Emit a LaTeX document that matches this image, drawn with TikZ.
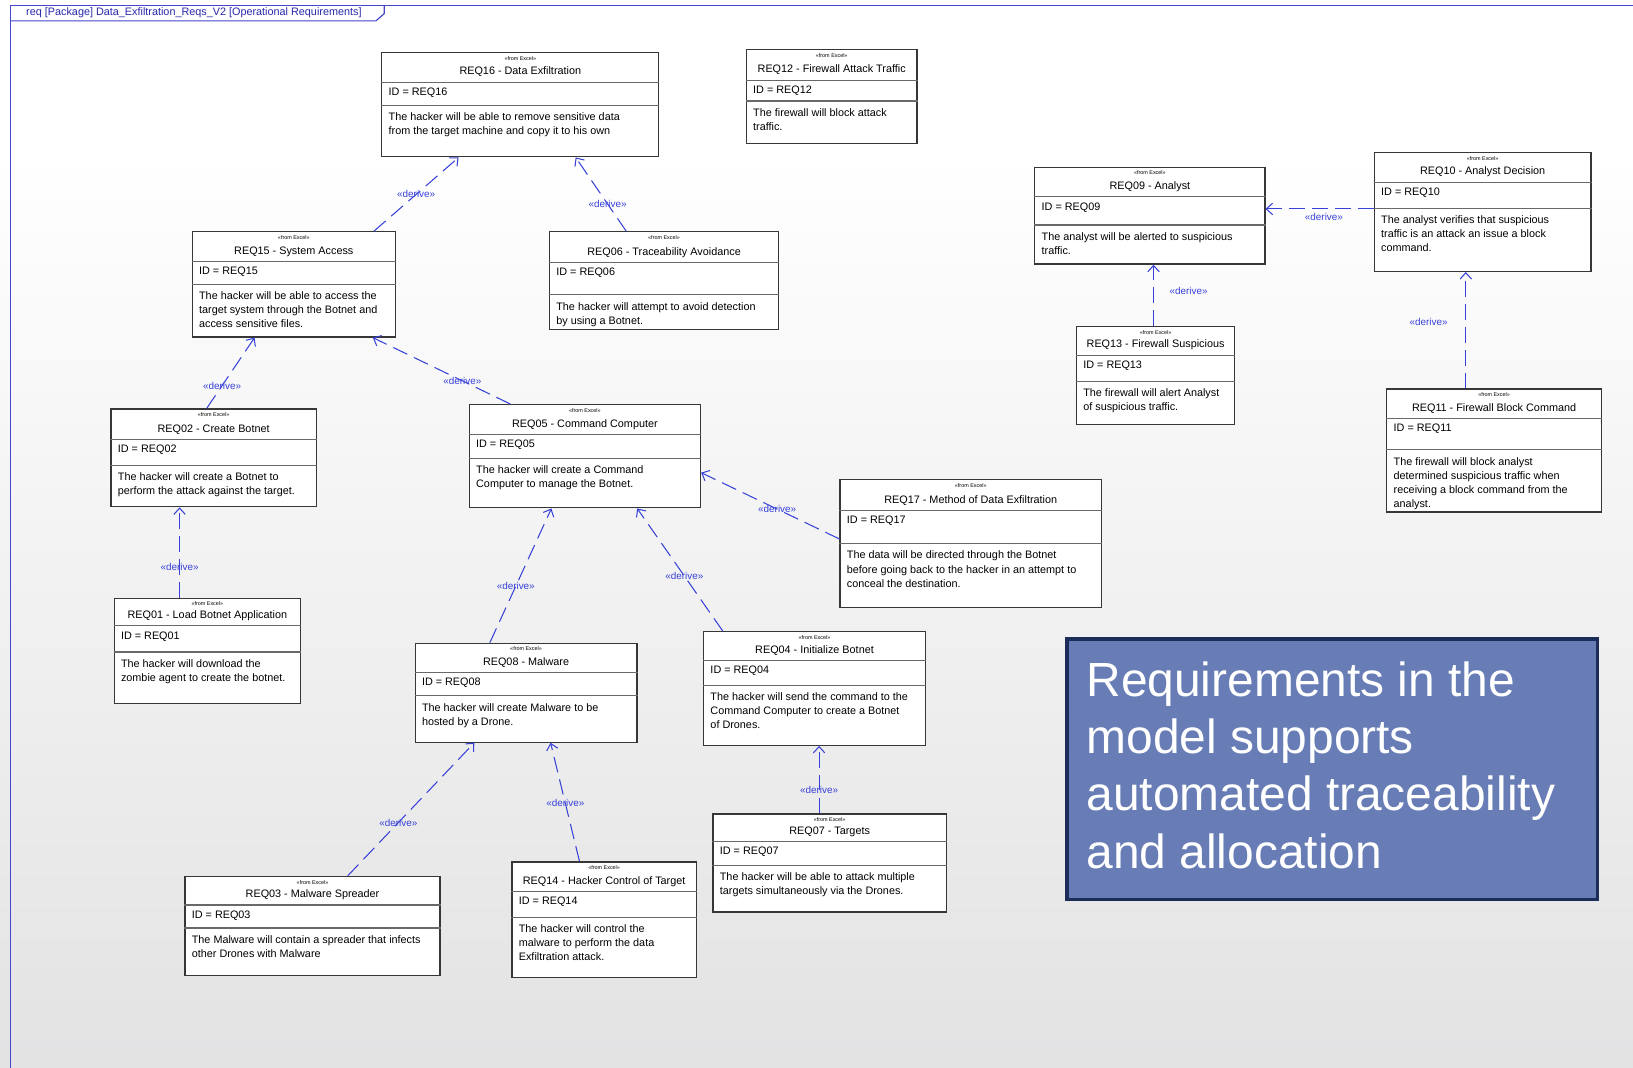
\documentclass[tikz,border=0pt]{standalone}
\usepackage{fontspec}
\setmainfont{Liberation Sans}
\usetikzlibrary{arrows.meta,calc}

\definecolor{framecol}{RGB}{70,70,205}
\definecolor{tabtext}{RGB}{40,40,170}
\definecolor{linkcol}{RGB}{55,65,215}
\definecolor{boxedge}{RGB}{55,55,55}
\definecolor{divcol}{RGB}{105,105,105}
\definecolor{calloutfill}{RGB}{104,125,182}
\definecolor{calloutedge}{RGB}{28,45,90}
\definecolor{bglow}{RGB}{210,210,212}

\pgfdeclareverticalshading{bgshade}{100bp}{color(0bp)=(bglow); color(68bp)=(white); color(100bp)=(white)}

\tikzset{
  reqframe/.style={draw=boxedge, fill=white, line width=1.2pt, anchor=north west, inner sep=0pt},
  divider/.style={draw=divcol, line width=1.1pt},
  stereo/.style={font=\fontsize{5.2}{6}\selectfont, inner sep=0pt},
  reqtitle/.style={font=\fontsize{10.4}{12}\selectfont, anchor=base, inner sep=0pt},
  reqid/.style={font=\fontsize{10.4}{12}\selectfont, anchor=west, inner sep=0pt},
  reqtext/.style={font=\fontsize{10.4}{13.5}\selectfont, anchor=north west, align=left, inner sep=0pt},
  derive/.style={draw=linkcol, line width=1pt, dash pattern=on 15pt off 7pt,
    -{Straight Barb[length=6pt,width=11pt]}},
  dlbl/.style={font=\fontsize{9.5}{10}\selectfont, text=linkcol, inner sep=1pt},
  callout/.style={draw=calloutedge, fill=calloutfill, line width=3pt, anchor=north west, inner sep=0pt},
  callouttext/.style={font=\fontsize{46}{55}\selectfont, text=white, anchor=north west, align=left, inner sep=0pt}
}

% \reqbox{name}{x,y}{width}{height}{first divider}{second divider}{title}{id}{text}
\newcommand{\reqbox}[9]{%
  \node[reqframe, minimum width=#3pt, minimum height=#4pt] (#1) at (#2) {};
  \draw[divider] ($(#1.north west)+(0,#5)$) -- ($(#1.north east)+(0,#5)$);
  \draw[divider] ($(#1.north west)+(0,#6)$) -- ($(#1.north east)+(0,#6)$);
  \node[stereo] at ($(#1.north)+(0,6)$) {«from Excel»};
  \node[reqtitle] at ($(#1.north)+(0,#5-7)$) {#7};
  \node[reqid] at ($(#1.north west)+(7,#5+10)$) {ID = #8};
  \node[reqtext] at ($(#1.north west)+(7,#6+7)$) {#9};
}

\begin{document}
\begin{tikzpicture}[x=1pt, y=-1pt]
\useasboundingbox (0,0) rectangle (1568,1025);
\shade[shading=bgshade] (0,0) rectangle (1568,1025);

% diagram frame and its name tab
\draw[framecol, line width=1.3pt] (1568,5) -- (10,5) -- (10,1025);
\draw[framecol, line width=1.1pt] (10,20) -- (361,20) -- (369,13) -- (369,5);
\node[font=\fontsize{10.4}{11}\selectfont, text=tabtext, anchor=west, inner sep=0pt] (tab) at (25,12.5)
  {req [Package] Data\_Exfiltration\_Reqs\_V2 [Operational Requirements]};

% requirement blocks
\reqbox{r16}{366,50}{266}{100}{29}{51}{REQ16 - Data Exfiltration}{REQ16}
  {The hacker will be able to remove sensitive data\\from the target machine and copy it to his own}
\reqbox{r12}{716,47}{164}{90}{30}{50}{REQ12 - Firewall Attack Traffic}{REQ12}
  {The firewall will block attack\\traffic.}
\reqbox{r15}{184,222}{195}{101}{29}{51}{REQ15 - System Access}{REQ15}
  {The hacker will be able to access the\\target system through the Botnet and\\access sensitive files.}
\reqbox{r06}{527,222}{220}{94}{30}{61}{REQ06 - Traceability Avoidance}{REQ06}
  {The hacker will attempt to avoid detection\\by using a Botnet.}
\reqbox{r09}{993,160}{221}{93}{29}{56}{REQ09 - Analyst}{REQ09}
  {The analyst will be alerted to suspicious\\traffic.}
\reqbox{r10}{1319,146}{208}{114}{29}{54}{REQ10 - Analyst Decision}{REQ10}
  {The analyst verifies that suspicious\\traffic is an attack an issue a block\\command.}
\reqbox{r13}{1033,313}{152}{94}{28}{53}{REQ13 - Firewall Suspicious}{REQ13}
  {The firewall will alert Analyst\\of suspicious traffic.}
\reqbox{r11}{1331,373}{206}{118}{29}{59}{REQ11 - Firewall Block Command}{REQ11}
  {The firewall will block analyst\\determined suspicious traffic when\\receiving a block command from the\\analyst.}
\reqbox{r02}{106,392}{197}{94}{30}{55}{REQ02 - Create Botnet}{REQ02}
  {The hacker will create a Botnet to\\perform the attack against the target.}
\reqbox{r05}{450,388}{222}{99}{29}{52}{REQ05 - Command Computer}{REQ05}
  {The hacker will create a Command\\Computer to manage the Botnet.}
\reqbox{r17}{806,460}{251}{123}{30}{62}{REQ17 - Method of Data Exfiltration}{REQ17}
  {The data will be directed through the Botnet\\before going back to the hacker in an attempt to\\conceal the destination.}
\reqbox{r01}{109,574}{179}{101}{27}{52}{REQ01 - Load Botnet Application}{REQ01}
  {The hacker will download the\\zombie agent to create the botnet.}
\reqbox{r08}{398,617}{213}{95}{29}{51}{REQ08 - Malware}{REQ08}
  {The hacker will create Malware to be\\hosted by a Drone.}
\reqbox{r04}{675,606}{213}{109}{28}{52}{REQ04 - Initialize Botnet}{REQ04}
  {The hacker will send the command to the\\Command Computer to create a Botnet\\of Drones.}
\reqbox{r07}{684,781}{224}{94}{27}{50}{REQ07 - Targets}{REQ07}
  {The hacker will be able to attack multiple\\targets simultaneously via the Drones.}
\reqbox{r03}{177,841}{245}{95}{28}{50}{REQ03 - Malware Spreader}{REQ03}
  {The Malware will contain a spreader that infects\\other Drones with Malware}
\reqbox{r14}{491,827}{177}{111}{29}{54}{REQ14 - Hacker Control of Target}{REQ14}
  {The hacker will control the\\malware to perform the data\\Exfiltration attack.}

% derive relations
\draw[derive] ($(r15.north west)!0.892!(r15.north east)$) -- node[dlbl, pos=0.5] {«derive»}
  ($(r16.south west)!0.278!(r16.south east)$);
\draw[derive] ($(r06.north west)!0.336!(r06.north east)$) -- node[dlbl, pos=0.37] {«derive»}
  ($(r16.south west)!0.699!(r16.south east)$);
\draw[derive] ($(r02.north west)!0.467!(r02.north east)$) -- node[dlbl, pos=0.32] {«derive»}
  ($(r15.south west)!0.308!(r15.south east)$);
\draw[derive] ($(r05.north west)!0.18!(r05.north east)$) -- node[dlbl, pos=0.35] {«derive»}
  ($(r15.south west)!0.887!(r15.south east)$);
\coordinate (c01) at ($(r01.north west)!0.352!(r01.north east)$);
\draw[derive] (c01) -- node[dlbl, pos=0.34] {«derive»} (c01 |- r02.south);
\draw[derive] ($(r17.north west)!0.463!(r17.south west)$) -- node[dlbl, pos=0.45] {«derive»}
  ($(r05.north east)!0.657!(r05.south east)$);
\draw[derive] ($(r08.north west)!0.338!(r08.north east)$) -- node[dlbl, pos=0.42] {«derive»}
  ($(r05.south west)!0.356!(r05.south east)$);
\draw[derive] ($(r04.north west)!0.089!(r04.north east)$) -- node[dlbl, pos=0.45] {«derive»}
  ($(r05.south west)!0.725!(r05.south east)$);
\draw[derive] ($(r03.north west)!0.637!(r03.north east)$) -- node[dlbl, pos=0.40] {«derive»}
  ($(r08.south west)!0.268!(r08.south east)$);
\draw[derive] ($(r14.north west)!0.367!(r14.north east)$) -- node[dlbl, pos=0.49] {«derive»}
  ($(r08.south west)!0.61!(r08.south east)$);
\coordinate (c07) at ($(r07.north west)!0.455!(r07.north east)$);
\draw[derive] (c07) -- node[dlbl, pos=0.35] {«derive»} (c07 |- r04.south);
\coordinate (c13) at ($(r13.north west)!0.487!(r13.north east)$);
\draw[derive] (c13) -- node[dlbl, pos=0.57, anchor=west, xshift=14pt] {«derive»} (c13 |- r09.south);
\coordinate (c10) at ($(r10.north west)!0.474!(r10.south west)$);
\draw[derive] (c10) -- node[dlbl, pos=0.46, below=3pt] {«derive»} (c10 -| r09.east);
\coordinate (c11) at ($(r11.north west)!0.369!(r11.north east)$);
\draw[derive] (c11) -- node[dlbl, pos=0.57, anchor=east, xshift=-16pt] {«derive»} (c11 |- r10.south);

% note
\node[callout, minimum width=509pt, minimum height=250pt] (note) at (1023,612) {};
\node[callouttext] at ($(note.north west)+(20,23)$)
  {Requirements in the\\model supports\\automated traceability\\and allocation};
\end{tikzpicture}
\end{document}
